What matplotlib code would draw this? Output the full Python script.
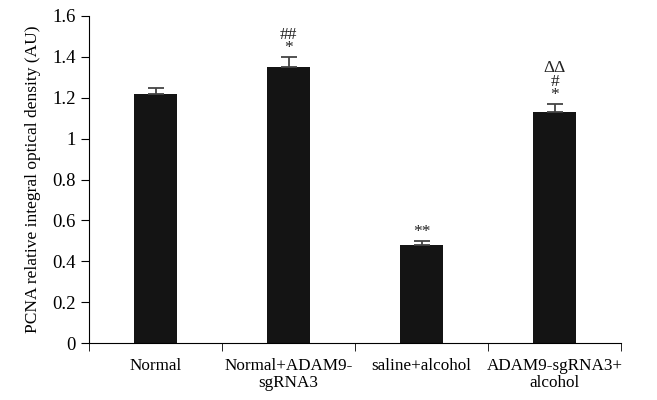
import numpy as np
import matplotlib.pyplot as plt

plt.rcParams['font.family'] = ['Liberation Serif', 'DejaVu Serif']

groups = ["Normal", "Normal+ADAM9-\nsgRNA3", "saline+alcohol", "ADAM9-sgRNA3+\nalcohol"]
values = [1.22, 1.35, 0.48, 1.13]
errors = [0.03, 0.05, 0.02, 0.04]
marks = ["", "##\n*", "**", "ΔΔ\n#\n*"]

fig = plt.figure(figsize=(6.57, 4), dpi=100)
ax = fig.add_axes([0.1355, 0.1425, 0.81, 0.8175])

x = np.arange(len(groups))
ax.bar(x, values, width=0.32, color="#141414")
ax.errorbar(x, values, yerr=[np.zeros(len(errors)), errors], fmt="none",
            ecolor="#444444", elinewidth=1.3, capsize=6, capthick=1.3)

for xi, v, e, m in zip(x, values, errors, marks):
    if m:
        ax.text(xi, v + e + 0.003, m, ha="center", va="bottom",
                fontsize=12.5, linespacing=0.8, color="#222222")

ax.set_xlim(-0.5, 3.5)
ax.set_ylim(0, 1.6)
ax.set_yticks(np.arange(0, 1.61, 0.2))
ax.set_yticklabels(["0", "0.2", "0.4", "0.6", "0.8", "1", "1.2", "1.4", "1.6"])
ax.set_xticks(x)
ax.set_xticklabels(groups, linespacing=1.05)
ax.set_xticks(np.arange(-0.5, 3.6, 1), minor=True)
ax.tick_params(axis="x", which="major", length=0, pad=11, labelsize=12.3)
ax.tick_params(axis="x", which="minor", length=6, direction="out")
ax.tick_params(axis="y", labelsize=13.5, length=6, direction="out")
ax.set_ylabel("PCNA relative integral optical density (AU)", fontsize=12.5, labelpad=8)

for s in ["top", "right"]:
    ax.spines[s].set_visible(False)

plt.savefig("out.png", dpi=100)
